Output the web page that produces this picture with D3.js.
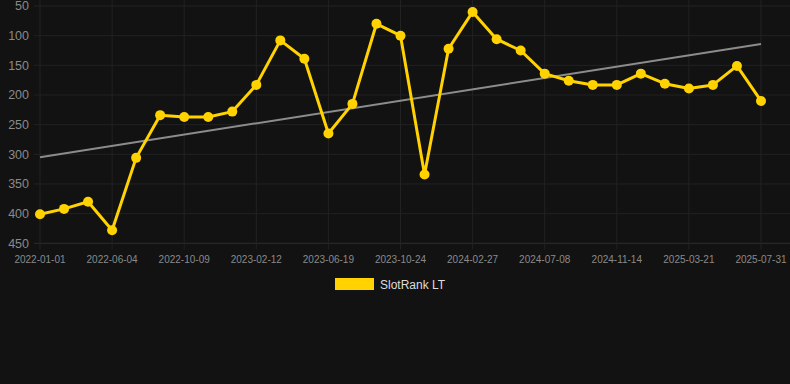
<!DOCTYPE html>
<html>
<head>
<meta charset="utf-8">
<script src="https://cdn.jsdelivr.net/npm/d3@7"></script>
<style>
body { margin: 0; background: #121212; }
svg { display: block; font-family: "Liberation Sans", Arial, sans-serif; }
</style>
</head>
<body>
<div id="chartArea"></div>
<script>
// dates for each point (only every 3rd is labelled on the axis)
const dates = [
"2022-01-01","2022-02-21","2022-04-13","2022-06-04","2022-07-16","2022-08-27",
"2022-10-09","2022-11-19","2022-12-31","2023-02-12","2023-03-25","2023-05-07",
"2023-06-19","2023-07-31","2023-09-11","2023-10-24","2023-12-04","2024-01-15",
"2024-02-27","2024-04-08","2024-05-20","2024-07-08","2024-08-15","2024-09-30",
"2024-11-14","2024-12-25","2025-02-07","2025-03-21","2025-05-01","2025-06-15",
"2025-07-31"
];
const slotRank = [
401, 392, 380, 428, 306, 234, 237, 237, 228, 183, 108, 139,
265, 215, 80, 100, 334, 122, 60, 106, 125, 164, 176, 183,
183, 164, 181, 189, 183, 151, 210
];
const trendEnds = [305, 114];
const yTicks = [50, 100, 150, 200, 250, 300, 350, 400, 450];
const seriesName = "SlotRank LT";

const W = 790, H = 384;
const margin = { top: 6, right: 0, bottom: 141, left: 40 };

const svg = d3.select("#chartArea").append("svg")
  .attr("width", W).attr("height", H);

svg.append("rect").attr("width", W).attr("height", H).attr("fill", "#121212");

const x = d3.scalePoint()
  .domain(dates)
  .range([margin.left, 761]);

const y = d3.scaleLinear()
  .domain([50, 450])
  .range([margin.top, H - margin.bottom + 0.3]);

// horizontal grid
svg.append("g")
  .selectAll("line")
  .data(yTicks)
  .join("line")
  .attr("x1", margin.left - 6).attr("x2", W)
  .attr("y1", d => y(d)).attr("y2", d => y(d))
  .attr("stroke", d => d === 450 ? "#2e2e2e" : "#222")
  .attr("stroke-width", 1);

// vertical grid at labelled dates
const shown = dates.filter((d, i) => i % 3 === 0);
svg.append("g")
  .selectAll("line")
  .data(shown)
  .join("line")
  .attr("x1", d => x(d)).attr("x2", d => x(d))
  .attr("y1", margin.top - 6).attr("y2", y(450) + 6)
  .attr("stroke", "#222");

// y labels
svg.append("g")
  .selectAll("text")
  .data(yTicks)
  .join("text")
  .attr("x", 29)
  .attr("y", d => y(d))
  .attr("dy", "0.35em")
  .attr("text-anchor", "end")
  .attr("fill", "#8a8a8a")
  .style("font-size", "12.5px")
  .text(d => d);

// x labels
svg.append("g")
  .selectAll("text")
  .data(shown)
  .join("text")
  .attr("x", d => x(d))
  .attr("y", 263)
  .attr("text-anchor", "middle")
  .attr("fill", "#8a8a8a")
  .style("font-size", "10px")
  .text(d => d);

// trend line
svg.append("line")
  .attr("x1", x(dates[0])).attr("y1", y(trendEnds[0]))
  .attr("x2", x(dates[dates.length - 1])).attr("y2", y(trendEnds[1]))
  .attr("stroke", "#8c8c8c")
  .attr("stroke-width", 2);

const pts = dates.map((d, i) => ({ date: d, v: slotRank[i] }));

svg.append("path")
  .datum(pts)
  .attr("fill", "none")
  .attr("stroke", "#ffd200")
  .attr("stroke-width", 3)
  .attr("stroke-linejoin", "round")
  .attr("d", d3.line().x(d => x(d.date)).y(d => y(d.v)));

svg.append("g")
  .selectAll("circle")
  .data(pts)
  .join("circle")
  .attr("cx", d => x(d.date))
  .attr("cy", d => y(d.v))
  .attr("r", 5)
  .attr("fill", "#ffd200");

// legend
svg.append("rect")
  .attr("x", 335).attr("y", 278)
  .attr("width", 39).attr("height", 12)
  .attr("fill", "#ffd200");

svg.append("text")
  .attr("x", 380).attr("y", 285)
  .attr("dy", "0.35em")
  .attr("fill", "#dddddd")
  .style("font-size", "12px")
  .text(seriesName);
</script>
</body>
</html>
